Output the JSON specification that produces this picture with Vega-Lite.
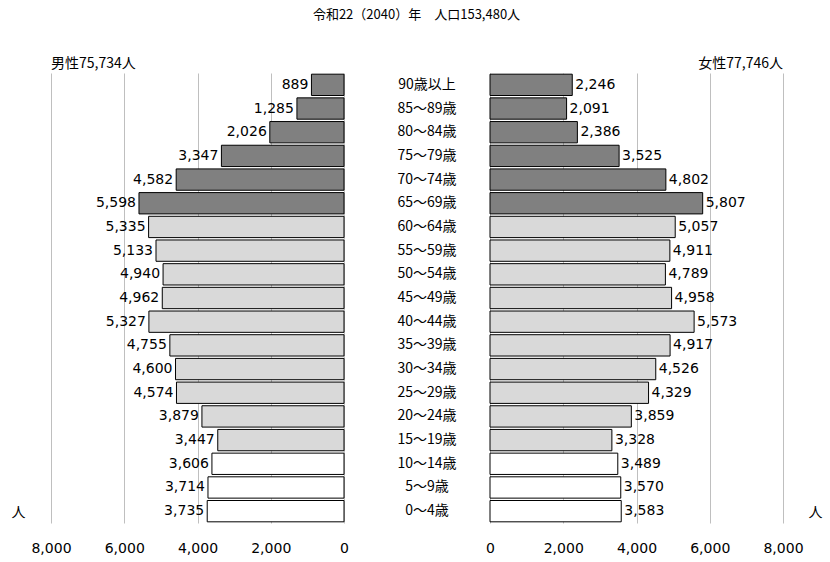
{
  "$schema": "https://vega.github.io/schema/vega-lite/v6.json",
  "title": {"text": "令和22（2040）年　人口153,480人", "anchor": "middle", "fontSize": 13, "fontWeight": "normal", "font": "Noto Sans CJK JP", "offset": 35},
  "padding": {"left": 11, "top": 9, "right": 8, "bottom": 5},
  "spacing": 0,
  "config": {
    "view": {"stroke": null},
    "font": "DejaVu Sans",
    "axis": {"labelFontSize": 14, "labelColor": "#000", "labelFlush": false, "labelOverlap": false, "gridColor": "#bfbfbf", "domainColor": "#000", "tickColor": "#000", "titleFontWeight": "normal", "titleFontSize": 14, "titleFont": "Noto Sans CJK JP"},
    "concat": {"spacing": 0}
  },
  "data": {"values": [
    {"age": "90歳以上", "m": 889, "f": 2246, "g": "old"},
    {"age": "85～89歳", "m": 1285, "f": 2091, "g": "old"},
    {"age": "80～84歳", "m": 2026, "f": 2386, "g": "old"},
    {"age": "75～79歳", "m": 3347, "f": 3525, "g": "old"},
    {"age": "70～74歳", "m": 4582, "f": 4802, "g": "old"},
    {"age": "65～69歳", "m": 5598, "f": 5807, "g": "old"},
    {"age": "60～64歳", "m": 5335, "f": 5057, "g": "work"},
    {"age": "55～59歳", "m": 5133, "f": 4911, "g": "work"},
    {"age": "50～54歳", "m": 4940, "f": 4789, "g": "work"},
    {"age": "45～49歳", "m": 4962, "f": 4958, "g": "work"},
    {"age": "40～44歳", "m": 5327, "f": 5573, "g": "work"},
    {"age": "35～39歳", "m": 4755, "f": 4917, "g": "work"},
    {"age": "30～34歳", "m": 4600, "f": 4526, "g": "work"},
    {"age": "25～29歳", "m": 4574, "f": 4329, "g": "work"},
    {"age": "20～24歳", "m": 3879, "f": 3859, "g": "work"},
    {"age": "15～19歳", "m": 3447, "f": 3328, "g": "work"},
    {"age": "10～14歳", "m": 3606, "f": 3489, "g": "young"},
    {"age": "5～9歳", "m": 3714, "f": 3570, "g": "young"},
    {"age": "0～4歳", "m": 3735, "f": 3583, "g": "young"}
  ]},
  "hconcat": [
    {
      "width": 293, "height": 450,
      "title": {"text": "男性75,734人", "anchor": "start", "frame": "group", "fontSize": 14, "fontWeight": "normal", "font": "Noto Sans CJK JP", "offset": 2},
      "encoding": {
        "y": {"field": "age", "type": "nominal", "sort": null, "axis": null, "scale": {"paddingInner": 0.1, "paddingOuter": 0.05}}
      },
      "layer": [
        {
          "mark": {"type": "bar", "stroke": "#000", "strokeWidth": 1},
          "encoding": {
            "x": {"field": "m", "type": "quantitative", "scale": {"domain": [0, 8000], "reverse": true}, "axis": {"values": [0, 2000, 4000, 6000, 8000], "format": ",d", "title": "人", "titleAngle": 0, "titleX": -40, "titleY": -18, "titleAlign": "left", "ticks": false, "domain": false, "labelPadding": 18}},
            "color": {"field": "g", "type": "nominal", "scale": {"domain": ["old", "work", "young"], "range": ["#808080", "#d9d9d9", "#ffffff"]}, "legend": null}
          }
        },
        {
          "mark": {"type": "text", "align": "right", "dx": -3, "fontSize": 14},
          "encoding": {"x": {"field": "m", "type": "quantitative"}, "text": {"field": "m", "type": "quantitative", "format": ","}}
        }
      ]
    },
    {
      "width": 136, "height": 450,
      "mark": {"type": "text", "fontSize": 14, "font": "Noto Sans CJK JP", "dx": 10},
      "encoding": {
        "y": {"field": "age", "type": "nominal", "sort": null, "axis": null, "scale": {"paddingInner": 0.1, "paddingOuter": 0.05}},
        "text": {"field": "age"}
      }
    },
    {
      "width": 293, "height": 450,
      "title": {"text": "女性77,746人", "anchor": "end", "frame": "group", "fontSize": 14, "fontWeight": "normal", "font": "Noto Sans CJK JP", "offset": 2},
      "encoding": {
        "y": {"field": "age", "type": "nominal", "sort": null, "axis": null, "scale": {"paddingInner": 0.1, "paddingOuter": 0.05}}
      },
      "layer": [
        {
          "mark": {"type": "bar", "stroke": "#000", "strokeWidth": 1},
          "encoding": {
            "x": {"field": "f", "type": "quantitative", "scale": {"domain": [0, 8000]}, "axis": {"values": [0, 2000, 4000, 6000, 8000], "format": ",d", "title": "人", "titleAngle": 0, "titleX": 318, "titleY": -18, "titleAlign": "left", "ticks": false, "domain": false, "labelPadding": 18}},
            "color": {"field": "g", "type": "nominal", "scale": {"domain": ["old", "work", "young"], "range": ["#808080", "#d9d9d9", "#ffffff"]}, "legend": null}
          }
        },
        {
          "mark": {"type": "text", "align": "left", "dx": 3, "fontSize": 14},
          "encoding": {"x": {"field": "f", "type": "quantitative"}, "text": {"field": "f", "type": "quantitative", "format": ","}}
        }
      ]
    }
  ]
}
